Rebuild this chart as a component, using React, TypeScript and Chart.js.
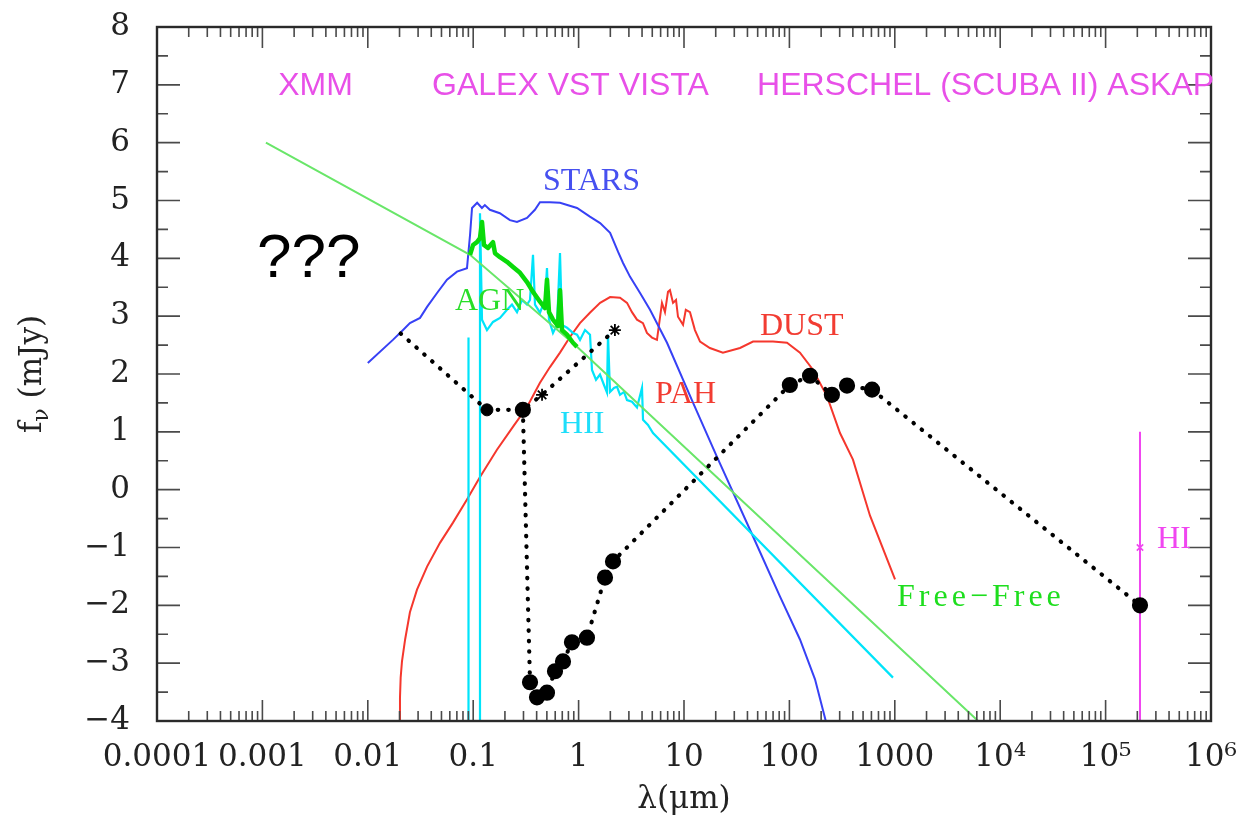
import React, { useEffect, useRef } from "react";
import { Chart, registerables } from "chart.js";

Chart.register(...registerables);

// ---------------- data ----------------
const X_TICK_VALUES = [1e-4, 1e-3, 1e-2, 1e-1, 1, 10, 100, 1000, 1e4, 1e5, 1e6];
const X_TICK_LABELS = ["0.0001", "0.001", "0.01", "0.1", "1", "10", "100", "1000", "10⁴", "10⁵", "10⁶"];
const Y_MIN = -4;
const Y_MAX = 8;

const STARS_X = [0.01, 0.0173, 0.0216, 0.0251, 0.0313, 0.0365, 0.0454, 0.0564, 0.0702, 0.0873, 0.0933, 0.0975, 0.109, 0.121, 0.129, 0.144, 0.179, 0.223, 0.26, 0.324, 0.385, 0.43, 0.535, 0.666, 0.966, 1.28, 1.6, 1.99, 2.37, 2.64, 3.08, 3.83, 4.76, 6.9, 12.2, 20.5, 45.2, 81.5, 126, 175, 225];
const STARS_Y = [2.19, 2.59, 2.76, 2.88, 2.97, 3.16, 3.4, 3.63, 3.77, 3.83, 4.4, 4.87, 4.96, 4.87, 4.92, 4.84, 4.78, 4.66, 4.63, 4.7, 4.84, 4.97, 4.97, 4.96, 4.87, 4.72, 4.61, 4.44, 4.11, 3.92, 3.68, 3.4, 3.11, 2.54, 1.5, 0.57, -0.81, -1.85, -2.59, -3.28, -4.05];

const DUST_X = [0.02, 0.0202, 0.0205, 0.0211, 0.0226, 0.0251, 0.0293, 0.0365, 0.0484, 0.0643, 0.0873, 0.116, 0.168, 0.239, 0.324, 0.43, 0.535, 0.666, 0.828, 1.03, 1.28, 1.6, 1.99, 2.47, 2.88, 3.21, 3.58, 4.08, 4.45, 4.97, 5.54, 6.18, 6.6, 7.05, 7.36, 7.87, 8.4, 8.77, 9.79, 10.4, 11.4, 12.7, 14.2, 17.6, 23.4, 34, 45.2, 69.9, 94.9, 126, 168, 228, 302, 401, 582, 1005];
const DUST_Y = [-4.3, -3.6, -3.25, -2.97, -2.59, -2.12, -1.73, -1.33, -0.92, -0.57, -0.17, 0.22, 0.69, 1.09, 1.43, 1.85, 2.12, 2.37, 2.64, 2.88, 3.06, 3.23, 3.33, 3.32, 3.23, 3.07, 2.94, 2.88, 2.71, 2.63, 2.59, 3.23, 3.07, 3.42, 3.45, 3.23, 3.28, 2.99, 2.85, 3.11, 3.07, 2.76, 2.56, 2.45, 2.37, 2.45, 2.56, 2.56, 2.54, 2.37, 2.07, 1.61, 0.98, 0.52, -0.45, -1.55];

const HII_X = [0.0893, 0.0893, 0.0912, 0.116, 0.116, 0.1212, 0.1351, 0.1541, 0.1796, 0.2092, 0.2334, 0.2603, 0.2904, 0.324, 0.3457, 0.3693, 0.3857, 0.4302, 0.4799, 0.5013, 0.5237, 0.5715, 0.6237, 0.6661, 0.6959, 0.7762, 0.8848, 0.9656, 1.031, 1.15, 1.283, 1.34, 1.463, 1.596, 1.742, 1.859, 1.901, 1.986, 2.167, 2.313, 2.471, 2.697, 2.879, 3.211, 3.582, 3.996, 4.084, 4.555, 5.08, 961];
const HII_Y = [-4.5, 2.63, -4.5, -4.5, 4.78, 2.94, 2.76, 2.9, 2.97, 3.11, 3.2, 3.07, 3.28, 3.2, 3.28, 4.06, 3.2, 3.06, 3.28, 3.83, 2.94, 2.71, 2.85, 4.09, 2.85, 2.8, 2.71, 2.68, 2.59, 2.76, 2.68, 2.07, 1.9, 1.99, 1.81, 1.68, 2.68, 1.69, 1.76, 1.78, 1.64, 1.69, 1.55, 1.52, 1.42, 1.76, 1.21, 1.12, 0.98, -3.25];

const AGN_X = [0.0933, 0.0996, 0.1086, 0.116, 0.1212, 0.1265, 0.138, 0.1541, 0.161, 0.1796, 0.2092, 0.2388, 0.2781, 0.324, 0.3693, 0.4302, 0.4799, 0.5013, 0.5237, 0.5715, 0.638, 0.6661, 0.6959, 0.7762, 0.8848, 0.9656];
const AGN_Y = [4.06, 4.23, 4.28, 4.35, 4.63, 4.23, 4.18, 4.28, 4.09, 4.02, 3.94, 3.85, 3.75, 3.59, 3.42, 3.25, 3.14, 3.63, 3.07, 2.94, 2.83, 3.45, 2.76, 2.68, 2.54, 2.47];

const FREEFREE_X = [0.00108, 0.0933, 0.966, 6170];
const FREEFREE_Y = [6.0, 4.06, 2.47, -4.0];

const SED_OBS_X = [0.296, 0.346, 0.403, 0.501, 0.597, 0.711, 0.865, 1.2, 1.78, 2.12, 101, 157, 253, 352, 608, 212000];
const SED_OBS_Y = [1.38, -3.33, -3.59, -3.51, -3.14, -2.97, -2.64, -2.56, -1.52, -1.24, 1.81, 1.97, 1.64, 1.8, 1.73, -2.0];

const SED_UV_X = [0.0205, 0.135, 0.296, 0.45, 2.21];
const SED_UV_Y = [2.7, 1.38, 1.38, 1.64, 2.76];
const SED_UV_MARK = ["none", "dot", "dot", "star", "star"];

const HI_X = [212000, 212000];
const HI_Y = [1.0, -4.5];
const HI_POINT_X = [212000];
const HI_POINT_Y = [-1.0];

// text notes anchored in data space (left edge, baseline)
const NOTES = [
  { text: "XMM", x: 0.00141, y: 6.82, kind: "band" },
  { text: "GALEX VST VISTA", x: 0.0407, y: 6.82, kind: "band" },
  { text: "HERSCHEL (SCUBA II) ASKAP", x: 49.3, y: 6.82, kind: "band" },
  { text: "???", x: 0.000889, y: 3.68, kind: "q" },
  { text: "STARS", x: 0.459, y: 5.18, kind: "stars" },
  { text: "AGN", x: 0.0671, y: 3.11, kind: "agn" },
  { text: "DUST", x: 52.6, y: 2.68, kind: "dust" },
  { text: "PAH", x: 5.31, y: 1.5, kind: "dust" },
  { text: "HII", x: 0.667, y: 0.98, kind: "hii" },
  { text: "Free−Free", x: 1050, y: -2.02, kind: "ff" },
  { text: "HI", x: 307600, y: -1.0, kind: "hi" },
];

// ---------------- styling ----------------
const SERIF = '"DejaVu Serif", serif';
const LSERIF = '"Liberation Serif", serif';
const SANS = '"Liberation Sans", Arial, sans-serif';
const C_BLUE = "rgb(55,65,245)";
const C_RED = "rgb(245,55,45)";
const C_CYAN = "rgb(0,228,250)";
const C_FF = "rgb(105,230,105)";
const C_AGN = "rgb(10,218,10)";
const C_MAG = "rgb(240,70,240)";
const C_BAND = "rgb(232,80,232)";

const NOTE_STYLE: Record<string, { font: string; color: string; spacing?: string }> = {
  band: { font: `32px ${SANS}`, color: C_BAND },
  q: { font: `62px ${SANS}`, color: "#000" },
  stars: { font: `32px ${LSERIF}`, color: "rgb(70,80,240)" },
  agn: { font: `32px ${LSERIF}`, color: "rgb(40,222,40)" },
  dust: { font: `32px ${LSERIF}`, color: "rgb(242,60,50)" },
  hii: { font: `32px ${LSERIF}`, color: "rgb(30,222,250)" },
  ff: { font: `32px ${LSERIF}`, color: "rgb(30,222,30)", spacing: "4px" },
  hi: { font: `32px ${LSERIF}`, color: C_MAG },
};

const pts = (xs: number[], ys: number[]) => xs.map((x, i) => ({ x, y: ys[i] }));

const framePlugin = {
  id: "frameAndNotes",
  afterDatasetsDraw(chart: any) {
    const { ctx, chartArea: a, scales } = chart;
    const xs = scales.x;
    const ys = scales.y;
    ctx.save();
    // inward ticks on all four sides
    ctx.strokeStyle = "#4a4a4a";
    ctx.lineWidth = 1.6;
    ctx.beginPath();
    for (let k = -4; k < 6; k++) {
      for (let m = 1; m < 10; m++) {
        const v = m * Math.pow(10, k);
        const px = xs.getPixelForValue(v);
        const len = m === 1 ? 21 : 10;
        ctx.moveTo(px, a.bottom);
        ctx.lineTo(px, a.bottom - len);
        ctx.moveTo(px, a.top);
        ctx.lineTo(px, a.top + len);
      }
    }
    for (let v = Y_MIN; v <= Y_MAX; v += 0.5) {
      const py = ys.getPixelForValue(v);
      const len = Number.isInteger(v) ? 23 : 11;
      ctx.moveTo(a.left, py);
      ctx.lineTo(a.left + len, py);
      ctx.moveTo(a.right, py);
      ctx.lineTo(a.right - len, py);
    }
    ctx.stroke();
    ctx.strokeStyle = "#2a2a2a";
    ctx.lineWidth = 2.4;
    ctx.strokeRect(a.left, a.top, a.right - a.left, a.bottom - a.top);

    // text notes
    ctx.textAlign = "left";
    ctx.textBaseline = "alphabetic";
    for (const n of NOTES) {
      const st = NOTE_STYLE[n.kind];
      ctx.font = st.font;
      ctx.fillStyle = st.color;
      (ctx as any).letterSpacing = st.spacing || "0px";
      ctx.fillText(n.text, xs.getPixelForValue(n.x), ys.getPixelForValue(n.y));
    }
    (ctx as any).letterSpacing = "0px";
    ctx.restore();
  },
  afterDraw(chart: any) {
    const { ctx, chartArea: a } = chart;
    ctx.save();
    ctx.fillStyle = "#222";
    // x title
    ctx.font = `31px ${SERIF}`;
    ctx.textAlign = "center";
    ctx.textBaseline = "middle";
    ctx.fillText("λ(μm)", (a.left + a.right) / 2, a.bottom + 79);
    // y title (rotated), f with subscript nu
    ctx.translate(30, (a.top + a.bottom) / 2);
    ctx.rotate(-Math.PI / 2);
    ctx.textAlign = "left";
    ctx.textBaseline = "alphabetic";
    const f1 = `31px ${SERIF}`;
    const f2 = `22px ${SERIF}`;
    ctx.font = f1;
    const wF = ctx.measureText("f").width;
    const wR = ctx.measureText(" (mJy)").width;
    ctx.font = f2;
    const wNu = ctx.measureText("ν").width;
    let cx = -(wF + wNu + wR) / 2;
    const base = 11;
    ctx.font = f1;
    ctx.fillText("f", cx, base);
    cx += wF;
    ctx.font = f2;
    ctx.fillText("ν", cx, base + 7);
    cx += wNu;
    ctx.font = f1;
    ctx.fillText(" (mJy)", cx, base);
    ctx.restore();
  },
};

export default function App() {
  const ref = useRef<HTMLCanvasElement>(null);
  useEffect(() => {
    document.body.style.margin = "0";
    const line = (data: any, color: string, width: number, extra: any = {}) => ({
      data,
      showLine: true,
      borderColor: color,
      borderWidth: width,
      pointRadius: 0,
      pointHoverRadius: 0,
      tension: 0,
      fill: false,
      ...extra,
    });
    const uvRadius = SED_UV_MARK.map((m) => (m === "none" ? 0 : 6));
    const uvStyle = SED_UV_MARK.map((m) => (m === "star" ? "star" : "circle"));
    const uvBW = SED_UV_MARK.map((m) => (m === "star" ? 1.8 : 1));
    const chart = new Chart(ref.current as HTMLCanvasElement, {
      type: "scatter",
      data: {
        datasets: [
          line(pts(SED_OBS_X, SED_OBS_Y), "#000", 4.2, {
            borderDash: [0.5, 10],
            borderCapStyle: "round",
            pointRadius: 6,
            pointHoverRadius: 6,
            pointBackgroundColor: "#000",
            pointBorderColor: "#000",
          }),
          line(pts(SED_UV_X, SED_UV_Y), "#000", 4.2, {
            borderDash: [0.5, 10],
            borderCapStyle: "round",
            pointRadius: uvRadius,
            pointHoverRadius: uvRadius,
            pointStyle: uvStyle,
            pointBorderWidth: uvBW,
            pointBackgroundColor: "#000",
            pointBorderColor: "#000",
          }),
          {
            data: pts(HI_POINT_X, HI_POINT_Y),
            showLine: false,
            pointStyle: "crossRot",
            pointRadius: 4.5,
            pointBorderWidth: 1.6,
            pointBorderColor: C_MAG,
            pointBackgroundColor: C_MAG,
          },
          line(pts(HI_X, HI_Y), C_MAG, 2),
          line(pts(AGN_X, AGN_Y), C_AGN, 4.5, { borderJoinStyle: "round" }),
          line(pts(FREEFREE_X, FREEFREE_Y), C_FF, 2),
          line(pts(HII_X, HII_Y), C_CYAN, 2.2),
          line(pts(STARS_X, STARS_Y), C_BLUE, 2),
          line(pts(DUST_X, DUST_Y), C_RED, 2),
        ],
      },
      options: {
        responsive: false,
        animation: false,
        events: [],
        layout: { autoPadding: false, padding: { top: 27, right: 29, left: 0, bottom: 0 } },
        plugins: { legend: { display: false }, tooltip: { enabled: false } },
        scales: {
          x: {
            type: "logarithmic",
            min: 1e-4,
            max: 1e6,
            grid: { display: false },
            border: { display: false },
            afterBuildTicks: (s: any) => {
              s.ticks = X_TICK_VALUES.map((v) => ({ value: v }));
            },
            afterFit: (s: any) => {
              s.height = 103;
              s.paddingLeft = 0;
              s.paddingRight = 0;
            },
            ticks: {
              autoSkip: false,
              maxRotation: 0,
              minRotation: 0,
              padding: 10,
              color: "#222",
              font: { family: SERIF, size: 31 },
              callback: (v: any) => {
                const i = X_TICK_VALUES.indexOf(Number(v));
                return i >= 0 ? X_TICK_LABELS[i] : "";
              },
            },
          },
          y: {
            type: "linear",
            min: Y_MIN,
            max: Y_MAX,
            grid: { display: false },
            border: { display: false },
            afterFit: (s: any) => {
              s.width = 157;
              s.paddingTop = 0;
              s.paddingBottom = 0;
            },
            ticks: {
              stepSize: 1,
              autoSkip: false,
              padding: 19,
              color: "#222",
              font: { family: SERIF, size: 31 },
              callback: (v: any) => (Number(v) < 0 ? "−" + Math.abs(Number(v)) : String(v)),
            },
          },
        },
      } as any,
      plugins: [framePlugin as any],
    });
    return () => chart.destroy();
  }, []);
  return (
    <div style={{ width: 1240, height: 824, background: "#fff" }}>
      <canvas ref={ref} width={1240} height={824} style={{ display: "block" }} />
    </div>
  );
}
